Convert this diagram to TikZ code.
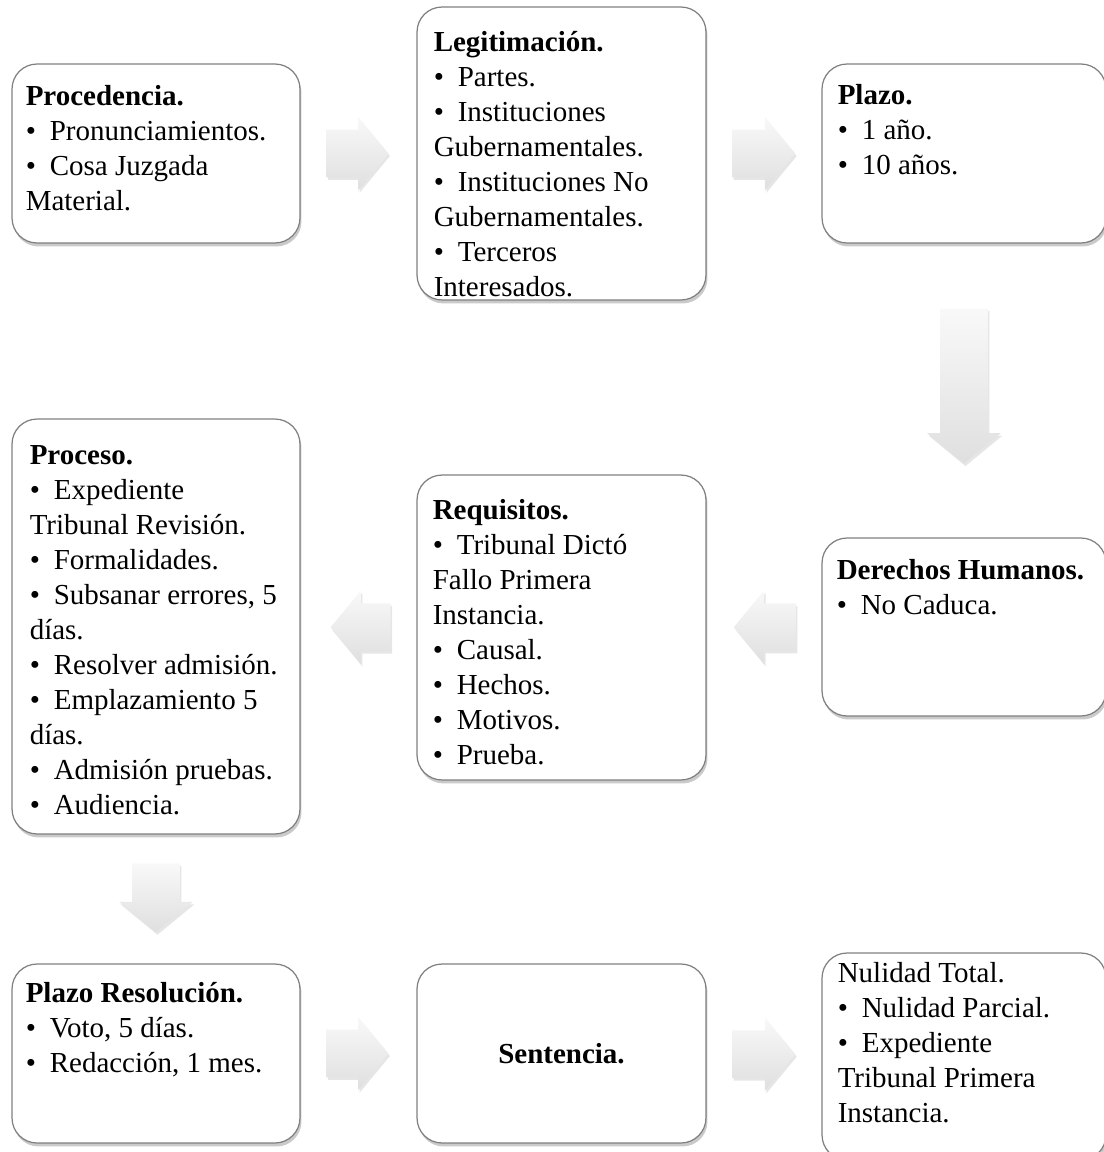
\documentclass[tikz,border=0pt]{standalone}
\usepackage{fontspec}
\setmainfont{Liberation Serif}
\usetikzlibrary{shapes.arrows,shadows,calc}

\newcommand{\itm}{\textbullet\hspace{0.48em}}
\newcommand{\cardlines}[1]{\parbox[t]{6cm}{\raggedright #1}}

\begin{document}
\begin{tikzpicture}[x=0.02cm, y=-0.02cm,
	card/.style={rounded corners=0.5cm, draw=gray, line width=0.7pt, fill=white,
		drop shadow={shadow xshift=0.03cm, shadow yshift=-0.07cm, opacity=0.35, fill=black!60}},
	txt/.style={anchor=base west, inner sep=0pt, font=\fontsize{16.5}{19.9}\selectfont},
	blockarrow/.style={single arrow, draw=none, anchor=tail,
		single arrow head extend=0.26cm, single arrow tip angle=101,
		top color=gray!5, bottom color=gray!25,
		drop shadow={shadow xshift=0.03cm, shadow yshift=-0.05cm, opacity=0.2}},
	h arrow/.style={inner xsep=0pt, inner ysep=0.47cm},
	v arrow/.style={inner xsep=0.47cm, inner ysep=0pt}]
	\useasboundingbox (0,0) rectangle (1103,1152);

	% boxes
	\node[card, minimum width=5.76cm, minimum height=3.58cm] (b1) at (156,153.5) {};
	\node[card, minimum width=5.78cm, minimum height=5.86cm] (b2) at (561.5,153.5) {};
	\node[card, minimum width=5.68cm, minimum height=3.58cm] (b3) at (964,153.5) {};
	\node[card, minimum width=5.68cm, minimum height=3.56cm] (b4) at (964,627) {};
	\node[card, minimum width=5.78cm, minimum height=6.1cm] (b5) at (561.5,627.5) {};
	\node[card, minimum width=5.76cm, minimum height=8.3cm] (b6) at (156,626.5) {};
	\node[card, minimum width=5.76cm, minimum height=3.58cm] (b7) at (156,1053.5) {};
	\node[card, minimum width=5.78cm, minimum height=3.58cm] (b8) at (561.5,1053.5) {};
	\node[card, minimum width=5.68cm, minimum height=4.14cm] (b9) at (964,1056.5) {};

	% texts
	\node[txt] (t1) at ([shift={(14,42)}]b1.north west) {\cardlines{\textbf{Procedencia.}\\
		\itm Pronunciamientos.\\ \itm Cosa Juzgada\\ Material.}};
	\node[txt] (t2) at ([shift={(17,45)}]b2.north west) {\cardlines{\textbf{Legitimación.}\\
		\itm Partes.\\ \itm Instituciones\\ Gubernamentales.\\ \itm Instituciones No\\
		Gubernamentales.\\ \itm Terceros\\ Interesados.}};
	\node[txt] (t3) at ([shift={(16,41)}]b3.north west) {\cardlines{\textbf{Plazo.}\\
		\itm 1 año.\\ \itm 10 años.}};
	\node[txt] (t4) at ([shift={(15,42)}]b4.north west) {\cardlines{\textbf{Derechos Humanos.}\\
		\itm No Caduca.}};
	\node[txt] (t5) at ([shift={(16,45)}]b5.north west) {\cardlines{\textbf{Requisitos.}\\
		\itm Tribunal Dictó\\ Fallo Primera\\ Instancia.\\ \itm Causal.\\ \itm Hechos.\\
		\itm Motivos.\\ \itm Prueba.}};
	\node[txt] (t6) at ([shift={(18,46)}]b6.north west) {\cardlines{\textbf{Proceso.}\\
		\itm Expediente\\ Tribunal Revisión.\\ \itm Formalidades.\\ \itm Subsanar errores, 5\\
		días.\\ \itm Resolver admisión.\\ \itm Emplazamiento 5\\ días.\\
		\itm Admisión pruebas.\\ \itm Audiencia.}};
	\node[txt] (t7) at ([shift={(14,39)}]b7.north west) {\cardlines{\textbf{Plazo Resolución.}\\
		\itm Voto, 5 días.\\ \itm Redacción, 1 mes.}};
	\node[font=\fontsize{16.5}{19.9}\selectfont\bfseries] (t8) at (b8.center) {Sentencia.};
	\node[txt] (t9) at ([shift={(16,30)}]b9.north west) {\cardlines{Nulidad Total.\\
		\itm Nulidad Parcial.\\ \itm Expediente\\ Tribunal Primera\\ Instancia.}};

	% arrows between the boxes
	\foreach \n/\src/\dst/\rot/\ori/\len in {1/b1.east/b2.west/0/h/1.24, 2/b2.east/b3.west/0/h/1.26,
		3/b3.south/b4.north/270/v/3.1, 4/b4.west/b5.east/180/h/1.24, 5/b5.west/b6.east/180/h/1.2,
		6/b6.south/b7.north/270/v/1.38, 7/b7.east/b8.west/0/h/1.24, 8/b8.east/b9.west/0/h/1.26}{
	\node[blockarrow, \ori\space arrow, shape border rotate=\rot, minimum height=\len cm] (arr\n) at ($(\src)!0.22!(\dst)$) {};}

\end{tikzpicture}
\end{document}
